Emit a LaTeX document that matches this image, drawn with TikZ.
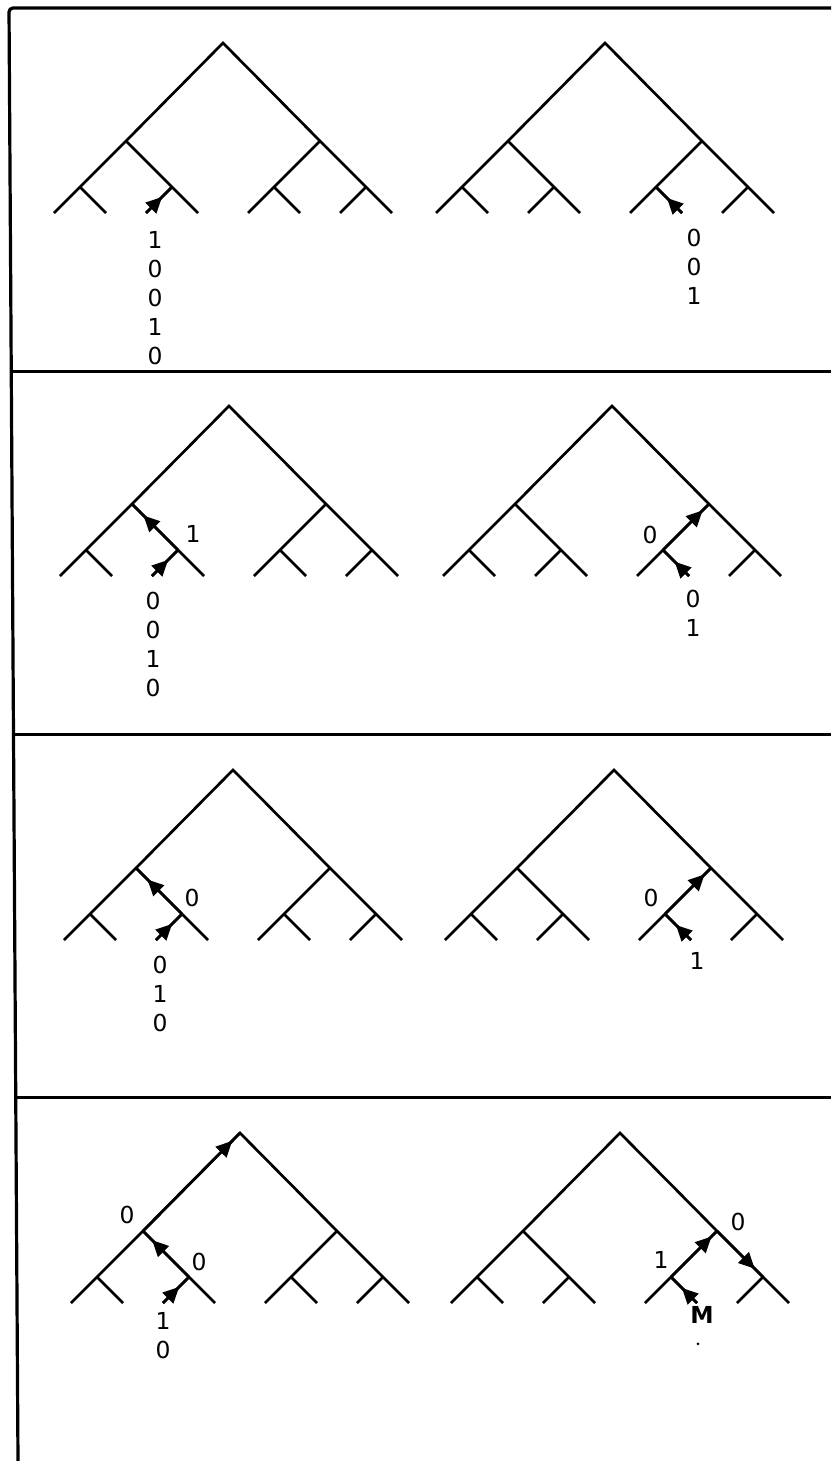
\documentclass[tikz,border=0pt]{standalone}
\usepackage{fontspec}
\setmainfont{DejaVu Sans}
\usetikzlibrary{arrows.meta,decorations.markings,calc}
\newcommand{\codetree}[2]{%
  \coordinate (#1) at (#2);
  \coordinate (#1L) at ($(#1)+(-97,98)$); \coordinate (#1R) at ($(#1)+(97,98)$);
  \foreach \g in {L,R}{
    \coordinate (#1\g L) at ($(#1\g)+(-46,46)$);
    \coordinate (#1\g R) at ($(#1\g)+(46,46)$);}
  \foreach \g in {LL,LR,RL,RR}{
    \coordinate (#1\g a) at ($(#1\g)+(-26,26)$);
    \coordinate (#1\g b) at ($(#1\g)+(26,26)$);}
  \draw[edge] (#1LLa) -- (#1LL) -- (#1L) -- (#1) -- (#1R) -- (#1RR) -- (#1RRb);
  \draw[edge] (#1LL) -- (#1LLb) (#1L) -- (#1LR) -- (#1LRb) (#1LR) -- (#1LRa);
  \draw[edge] (#1R) -- (#1RL) -- (#1RLa) (#1RL) -- (#1RLb) (#1RR) -- (#1RRa);
}
\begin{document}
\begin{tikzpicture}[x=0.5pt,y=-0.5pt,
  edge/.style={line width=1.35pt},
  frame/.style={line width=1.6pt},
  flow/.style={postaction={decorate},decoration={markings,mark=at position #1 with {\arrow{Triangle[length=8pt,width=7.5pt]}}}},
  bits/.style={align=center,inner sep=0pt,anchor=north,font=\fontsize{11.7}{14.5}\selectfont},
  lab/.style={inner sep=0pt,font=\fontsize{11.7}{14.5}\selectfont}]
\useasboundingbox (0,0) rectangle (831,1461);
\coordinate (tl) at (9,8); \coordinate (tr) at (831,8); \coordinate (bl) at (18,1461);
\draw[frame,rounded corners=2pt] (tr) -- (tl) -- (bl);
\foreach \i/\t in {1/0.25,2/0.5,3/0.75}{
  \coordinate (sep\i) at ($(tl)!\t!(bl)$); \draw[frame] (sep\i) -- (sep\i -| tr);}

\codetree{p1l}{223,43} \codetree{p1r}{605,43}
\codetree{p2l}{229,406} \codetree{p2r}{612,406}
\codetree{p3l}{233,770} \codetree{p3r}{614,770}
\codetree{p4l}{240,1133} \codetree{p4r}{620,1133}

\draw[edge,flow=0.62] (p1lLRa) -- (p1lLR);
\node[bits] (b1l) at ($(p1lLRa)+(9,18)$) {1\\0\\0\\1\\0};
\draw[edge,flow=0.58] (p1rRLb) -- (p1rRL);
\node[bits] (b1r) at ($(p1rRLb)+(12,16)$) {0\\0\\1};

\draw[edge,flow=0.62] (p2lLRa) -- (p2lLR); \draw[edge,flow=0.75] (p2lLR) -- (p2lL);
\node[lab] (c2l) at ($(p2lLR)+(15,-16)$) {1};
\node[bits] (b2l) at ($(p2lLRa)+(1,16)$) {0\\0\\1\\0};
\draw[edge,flow=0.55] (p2rRLb) -- (p2rRL); \draw[edge,flow=0.86] (p2rRL) -- (p2rR);
\node[lab] (c2r) at ($(p2rRL)+(-13,-15)$) {0};
\node[bits] (b2r) at ($(p2rRLb)+(4,14)$) {0\\1};

\draw[edge,flow=0.62] (p3lLRa) -- (p3lLR); \draw[edge,flow=0.75] (p3lLR) -- (p3lL);
\node[lab] (c3l) at ($(p3lLR)+(10,-16)$) {0};
\node[bits] (b3l) at ($(p3lLRa)+(4,16)$) {0\\1\\0};
\draw[edge,flow=0.58] (p3rRLb) -- (p3rRL); \draw[edge,flow=0.86] (p3rRL) -- (p3rR);
\node[lab] (c3r) at ($(p3rRL)+(-14,-16)$) {0};
\node[bits] (b3r) at ($(p3rRLb)+(6,12)$) {1};

\draw[edge,flow=0.62] (p4lLRa) -- (p4lLR); \draw[edge,flow=0.8] (p4lLR) -- (p4lL);
\draw[edge,flow=0.92] (p4lL) -- (p4l);
\node[lab] (c4l) at ($(p4lLR)+(10,-15)$) {0};
\node[lab] (d4l) at ($(p4lL)+(-16,-16)$) {0};
\node[bits] (b4l) at ($(p4lLRa)+(0,9)$) {1\\0};
\draw[edge,flow=0.58] (p4rRLb) -- (p4rRL); \draw[edge,flow=0.88] (p4rRL) -- (p4rR);
\draw[edge,flow=0.82] (p4rR) -- (p4rRR);
\node[lab] (c4r) at ($(p4rRL)+(-10,-17)$) {1};
\node[lab] (d4r) at ($(p4rR)+(21,-9)$) {0};
\node[bits] (b4r) at ($(p4rRLb)+(5,3)$) {\bfseries M};
\fill ($(b4r.south)+(-4,20)$) circle (0.7pt);
\end{tikzpicture}
\end{document}
